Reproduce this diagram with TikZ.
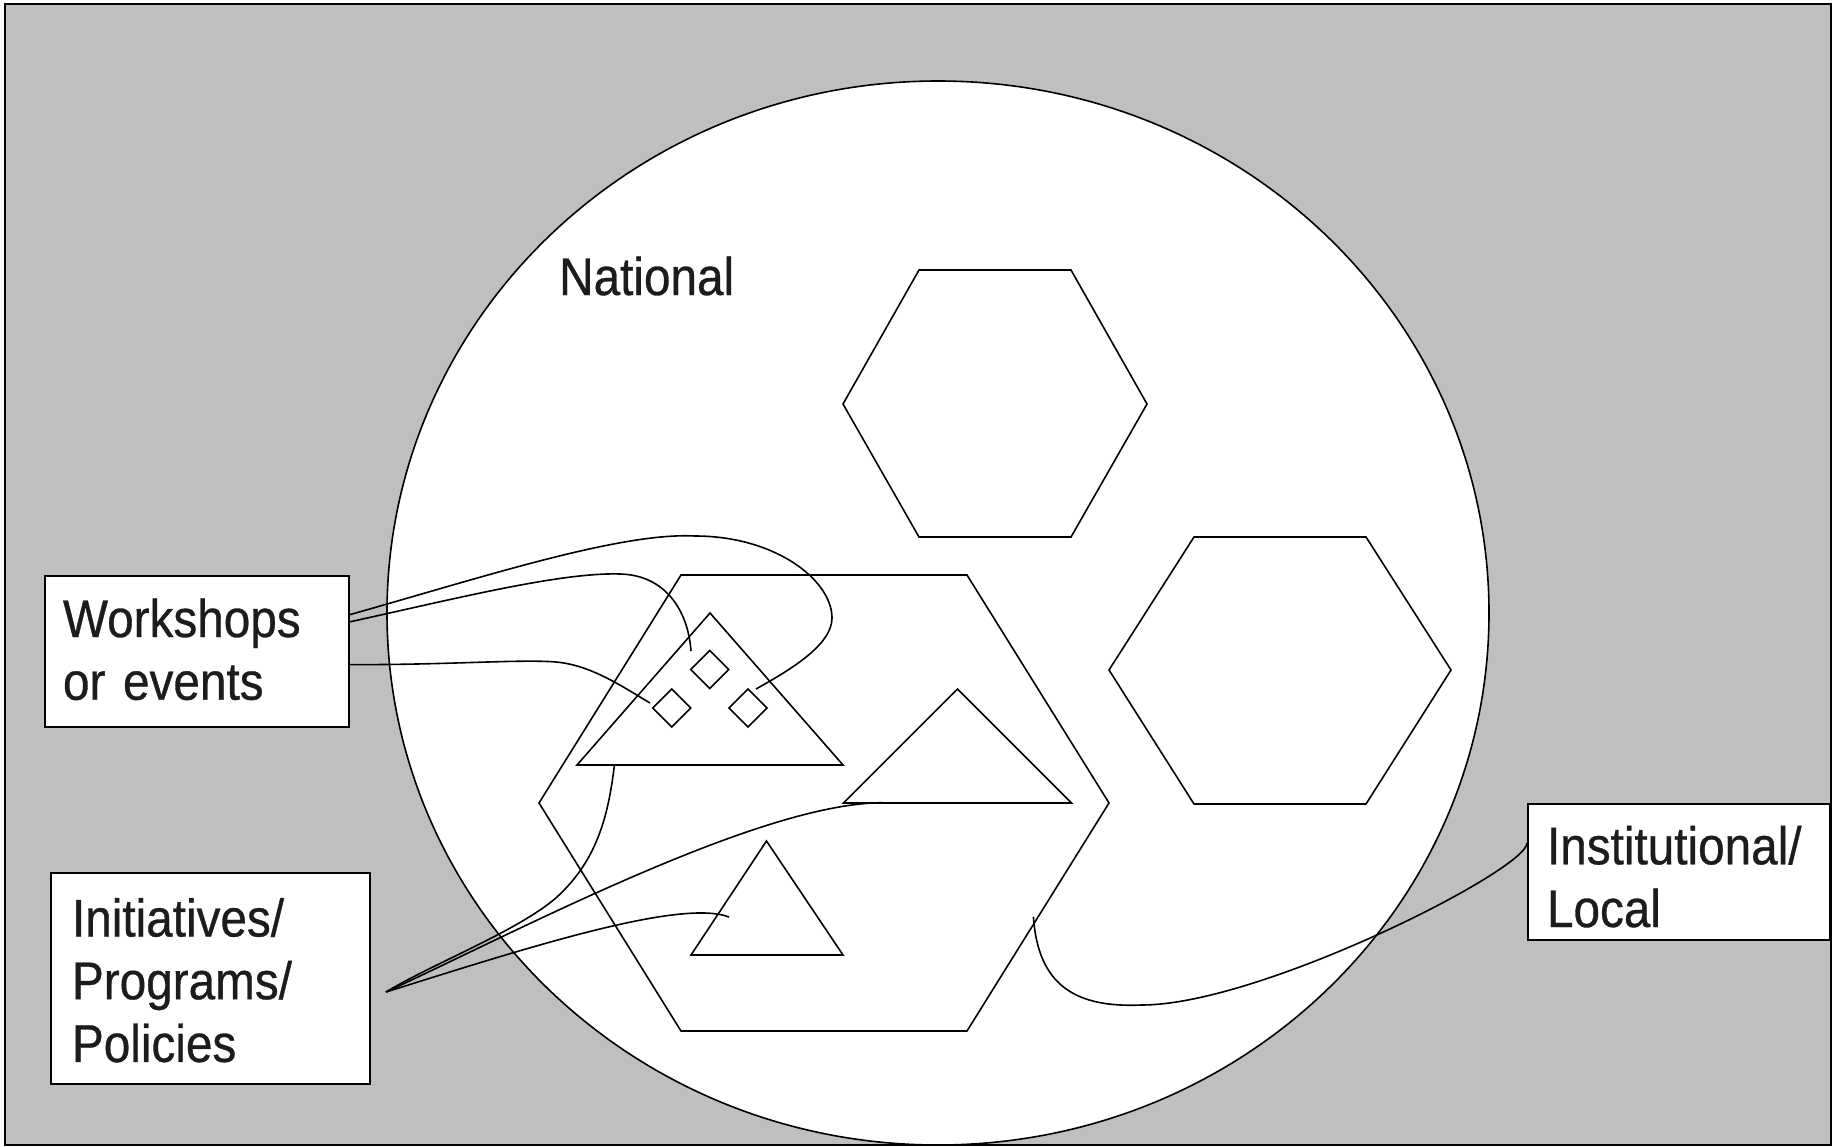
\documentclass[tikz,border=0pt]{standalone}
\usepackage{fontspec}
\setmainfont{Liberation Sans}[FakeStretch=0.9,FakeBold=0.6,WordSpace=0.6]
\usetikzlibrary{calc}
\definecolor{bggray}{RGB}{191,191,191}
\definecolor{ink}{RGB}{28,28,28}
\begin{document}
\begin{tikzpicture}[x=1pt,y=-1pt,
  shp/.style={draw=black,line width=1.6,line join=miter},
  conn/.style={draw=black,line width=1.6},
  lblfont/.style={font=\fontsize{53}{62.7}\selectfont,text=ink},
  lblbox/.style={draw=black,fill=white,line width=2,anchor=north west,inner ysep=0pt,align=left,lblfont}]
\useasboundingbox (0,0) rectangle (1834,1146);
\fill[white] (0,0) rectangle (1834,1146);
% background frame
\draw[fill=bggray,line width=2] (5,3.5) rectangle (1830.5,1144.5);
% national ellipse
\draw[fill=white,line width=1.6] (938,613) ellipse [x radius=551, y radius=532];
\node[anchor=base west,inner sep=0pt,lblfont] (national) at (559,295) {National};
% hexagons
\draw[shp] (919,270) -- (1071,270) -- (1147,404) -- (1071,537) -- (919,537) -- (843,404) -- cycle;
\draw[shp] (1194,537) -- (1366,537) -- (1451,670) -- (1366,804) -- (1194,804) -- (1109,670) -- cycle;
\draw[shp] (681,575) -- (967,575) -- (1109,803) -- (967,1031) -- (681,1031) -- (539,803) -- cycle;
% triangles
\draw[shp] (710,613) -- (843,765) -- (577,765) -- cycle;
\draw[shp] (957.5,689) -- (1071.5,803) -- (843.5,803) -- cycle;
\draw[shp] (766.5,841) -- (843,955) -- (691,955) -- cycle;
% diamonds
\coordinate (dtop) at (709.7,669.5);
\coordinate (dleft) at (671.8,708);
\coordinate (dright) at (748,708);
\foreach \d in {dtop,dleft,dright}{
  \draw[shp] ($(\d)+(0,-19)$) -- ($(\d)+(19,0)$) -- ($(\d)+(0,19)$) -- ($(\d)+(-19,0)$) -- cycle;
}
% label boxes
\node[lblbox,inner xsep=18pt,text width=268pt,text height=61pt,text depth=90pt] (ws) at (44,575) {Workshops\\or events};
\node[lblbox,inner xsep=21pt,text width=277pt,text height=64pt,text depth=147.5pt] (ipp) at (50,871.5) {Initiatives/\\Programs/\\Policies};
\node[lblbox,inner xsep=19pt,text width=264pt,text height=60.3pt,text depth=75.7pt] (inst) at (1527,803) {Institutional/\\Local};
% connector end points
\coordinate (ws1) at ($(ws.north east)+(0,39.6)$);
\coordinate (ws2) at ($(ws.north east)+(0,46.8)$);
\coordinate (ws3) at ($(ws.north east)+(0,89.6)$);
\coordinate (ipps) at (386,992);
\coordinate (insts) at ($(inst.north west)+(0,40)$);
\coordinate (eR) at (756,689);
\coordinate (eT) at (691,651);
\coordinate (eL) at (650,703);
\coordinate (eBig) at (614.4,765);
\coordinate (eMid) at (882.7,802.7);
\coordinate (eSmall) at (729,917);
\coordinate (eHex) at (1033.4,916.7);
% workshops connectors
\draw[conn] (ws1) .. controls (480,578) and (620,532) .. (695,536)
  .. controls (775,536) and (832,580) .. (832,618)
  .. controls (832,645) and (790,670) .. (eR);
\draw[conn] (ws2) .. controls (450,600) and (560,572) .. (620,574)
  .. controls (665,575) and (688,610) .. (eT);
\draw[conn] (ws3) .. controls (450,665) and (520,659) .. (556,662)
  .. controls (590,665) and (620,685) .. (eL);
% initiatives connectors
\draw[conn] (ipps) .. controls (430,965) and (520,930) .. (557,897)
  .. controls (595,862) and (608,820) .. (eBig);
\draw[conn] (ipps) .. controls (520,930) and (760,803) .. (eMid);
\draw[conn] (ipps) .. controls (520,950) and (680,898) .. (eSmall);
% institutional connector
\draw[conn] (insts) .. controls (1527,870) and (1260,1005) .. (1141.7,1005)
  .. controls (1075,1008) and (1038,985) .. (eHex);
\end{tikzpicture}
\end{document}
